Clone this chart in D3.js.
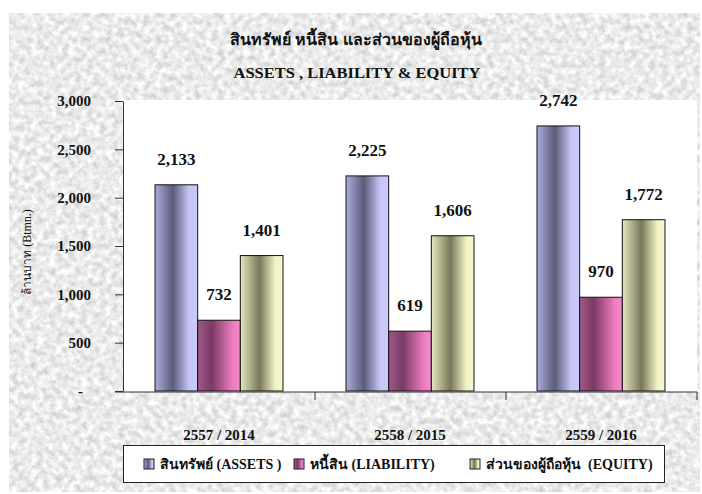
<!DOCTYPE html>
<html>
<head>
<meta charset="utf-8">
<script src="https://cdn.jsdelivr.net/npm/d3@7"></script>
<style>
  body { margin: 0; background: #fff; }
  svg { display: block; }
  .serif { font-family: "Liberation Serif", "Times New Roman", serif; }
</style>
</head>
<body>
<div id="chart"></div>
<script>
const categories = ["2557 / 2014", "2558 / 2015", "2559 / 2016"];
const seriesNames = ["สินทรัพย์ (ASSETS )", "หนี้สิน (LIABILITY)", "ส่วนของผู้ถือหุ้น  (EQUITY)"];
const assets = [2133, 2225, 2742];
const liability = [732, 619, 970];
const equity = [1401, 1606, 1772];
const yTicks = [0, 500, 1000, 1500, 2000, 2500, 3000];

const W = 702, H = 494;
const plot = { left: 123, right: 697, top: 100, bottom: 392 };

// gradient stops per series (Excel style "dark in the middle")
const gradStops = [
  [["0%", "#acacde"], ["42%", "#5b5b7a"], ["80%", "#c6c6f6"], ["100%", "#cbcbfb"]],
  [["0%", "#a25a8a"], ["33%", "#7a3a64"], ["82%", "#ee7cc0"], ["100%", "#f48ccc"]],
  [["0%", "#e6e6be"], ["45%", "#78785a"], ["82%", "#f2f2c6"], ["100%", "#f8f8d2"]]
];

const seriesValues = [assets, liability, equity];

const svg = d3.select("#chart").append("svg")
  .attr("width", W).attr("height", H)
  .attr("viewBox", `0 0 ${W} ${H}`);

const defs = svg.append("defs");

// granite-ish paper background
const filt = defs.append("filter").attr("id", "granite")
  .attr("x", 0).attr("y", 0).attr("width", "100%").attr("height", "100%")
  .attr("color-interpolation-filters", "sRGB");
filt.append("feTurbulence")
  .attr("type", "fractalNoise").attr("baseFrequency", 0.16)
  .attr("numOctaves", 3).attr("seed", 7).attr("result", "n");
filt.append("feColorMatrix").attr("in", "n").attr("type", "matrix")
  .attr("values", "0.32 0 0 0 0.76  0.32 0 0 0 0.76  0.32 0 0 0 0.76  0 0 0 0 1");

gradStops.forEach((stops, i) => {
  const g = defs.append("linearGradient").attr("id", "grad" + i)
    .attr("x1", "0%").attr("x2", "100%").attr("y1", "0%").attr("y2", "0%");
  stops.forEach(s => g.append("stop").attr("offset", s[0]).attr("stop-color", s[1]));
});

svg.append("rect")
  .attr("x", 9).attr("y", 13).attr("width", 691).attr("height", 479)
  .attr("fill", "#eaeaea").attr("filter", "url(#granite)");

// plot area
svg.append("rect")
  .attr("x", plot.left).attr("y", plot.top)
  .attr("width", plot.right - plot.left).attr("height", plot.bottom - plot.top)
  .attr("fill", "#fff");

// titles
svg.append("text")
  .attr("x", 356).attr("y", 45)
  .attr("text-anchor", "middle")
  .attr("font-family", "Tahoma, 'Noto Sans', 'DejaVu Sans', sans-serif")
  .attr("font-size", 16).attr("font-weight", "bold").attr("fill", "#111")
  .text("สินทรัพย์ หนี้สิน และส่วนของผู้ถือหุ้น");

svg.append("text").attr("class", "serif")
  .attr("x", 357).attr("y", 78)
  .attr("text-anchor", "middle")
  .attr("font-size", 14).attr("font-weight", "bold").attr("fill", "#111")
  .attr("textLength", 247).attr("lengthAdjust", "spacingAndGlyphs")
  .text("ASSETS , LIABILITY & EQUITY");

// scales
const y = d3.scaleLinear().domain([0, 3000]).range([391, 101]);

const x0 = d3.scaleBand().domain(categories)
  .range([plot.left + 0.5, plot.right - 0.5])
  .paddingInner(0.33).paddingOuter(0.165);

const x1 = d3.scaleBand().domain(d3.range(seriesNames.length))
  .range([0, x0.bandwidth()]);

const step = x0.step();

// bars
const groups = svg.append("g").selectAll("g")
  .data(categories)
  .join("g")
  .attr("transform", d => `translate(${x0(d)},0)`);

groups.selectAll("rect")
  .data((d, ci) => seriesValues.map((vals, si) => ({ si, v: vals[ci] })))
  .join("rect")
  .attr("x", d => x1(d.si))
  .attr("y", d => y(d.v))
  .attr("width", x1.bandwidth())
  .attr("height", d => y(0) - y(d.v))
  .attr("fill", d => `url(#grad${d.si})`)
  .attr("stroke", "#111").attr("stroke-width", 1);

groups.selectAll("text")
  .data((d, ci) => seriesValues.map((vals, si) => ({ si, v: vals[ci] })))
  .join("text").attr("class", "serif")
  .attr("x", d => x1(d.si) + x1.bandwidth() / 2)
  .attr("y", d => y(d.v) - 20)
  .attr("text-anchor", "middle")
  .attr("font-size", 17).attr("font-weight", "bold").attr("fill", "#111")
  .text(d => d3.format(",")(d.v));

// y axis
const yAxis = svg.append("g")
  .attr("transform", `translate(${plot.left},0)`)
  .call(d3.axisLeft(y).tickValues(yTicks).tickSize(8).tickSizeOuter(0)
    .tickFormat(d => d === 0 ? "-" : d3.format(",")(d)));
yAxis.select(".domain").attr("stroke", "#333");
yAxis.selectAll(".tick line").attr("stroke", "#333");
yAxis.selectAll(".tick text")
  .attr("class", "serif")
  .attr("x", -32)
  .attr("font-size", 15).attr("font-weight", "bold").attr("fill", "#111")
  .attr("font-family", "'Liberation Serif', serif");
yAxis.selectAll(".tick").filter(d => d === 0).select("text").attr("x", -40);

svg.append("text")
  .attr("transform", "translate(31,252) rotate(-90)")
  .attr("text-anchor", "middle")
  .attr("font-family", "'Liberation Serif', Tahoma, serif")
  .attr("font-size", 12).attr("fill", "#111")
  .text("ล้านบาท (Btmn.)");

// x axis line + boundary ticks
const xAxis = svg.append("g");
xAxis.append("line")
  .attr("x1", plot.left - 8).attr("x2", plot.right)
  .attr("y1", plot.bottom).attr("y2", plot.bottom)
  .attr("stroke", "#333");
const bounds = categories.map(c => x0(c) + x0.bandwidth() / 2 + step / 2);
xAxis.selectAll("line.tk")
  .data(bounds)
  .join("line").attr("class", "tk")
  .attr("x1", d => Math.round(d)).attr("x2", d => Math.round(d))
  .attr("y1", plot.bottom).attr("y2", plot.bottom + 8)
  .attr("stroke", "#333");

svg.append("g").selectAll("text")
  .data(categories)
  .join("text").attr("class", "serif")
  .attr("x", d => x0(d) + x0.bandwidth() / 2)
  .attr("y", 440)
  .attr("text-anchor", "middle")
  .attr("font-size", 15).attr("font-weight", "bold").attr("fill", "#111")
  .text(d => d);

// legend
const legend = svg.append("g");
legend.append("rect")
  .attr("x", 123.5).attr("y", 445.5).attr("width", 541).attr("height", 37)
  .attr("fill", "#fff").attr("stroke", "#222").attr("stroke-width", 1);

const legendX = [144, 294, 470];
const item = legend.selectAll("g")
  .data(seriesNames)
  .join("g")
  .attr("transform", (d, i) => `translate(${legendX[i]},459)`);
item.append("rect")
  .attr("width", 10).attr("height", 10)
  .attr("fill", (d, i) => `url(#grad${i})`)
  .attr("stroke", "#222");
item.append("text")
  .attr("x", 16).attr("y", 10)
  .attr("font-family", "'Liberation Serif', Tahoma, serif")
  .attr("font-size", 14).attr("font-weight", "bold").attr("fill", "#111")
  .attr("xml:space", "preserve")
  .text(d => d);
</script>
</body>
</html>
